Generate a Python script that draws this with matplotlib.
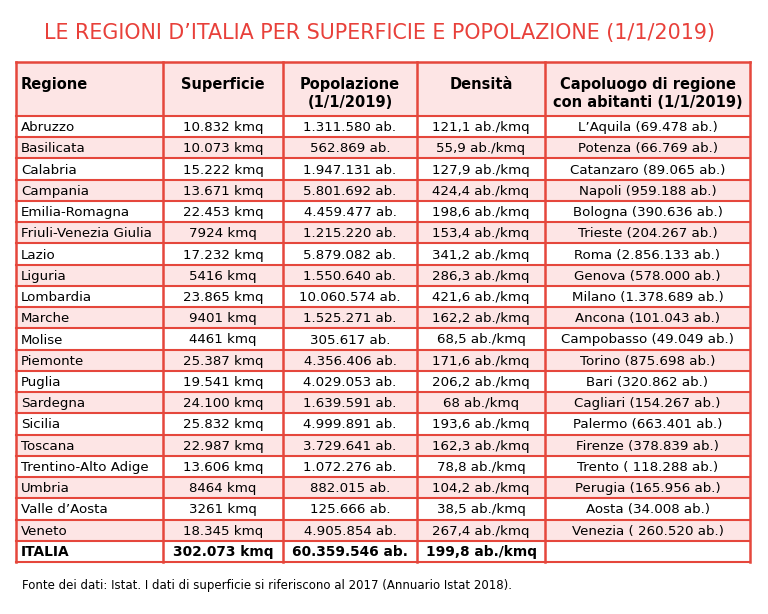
import matplotlib.pyplot as plt
from matplotlib.patches import Rectangle

plt.rc("font", family="DejaVu Sans")

title = "LE REGIONI D\u2019ITALIA PER SUPERFICIE E POPOLAZIONE (1/1/2019)"
headers = ["Regione", "Superficie", "Popolazione\n(1/1/2019)", "Densit\u00e0",
           "Capoluogo di regione\ncon abitanti (1/1/2019)"]
regioni = ["Abruzzo", "Basilicata", "Calabria", "Campania", "Emilia-Romagna",
           "Friuli-Venezia Giulia", "Lazio", "Liguria", "Lombardia", "Marche",
           "Molise", "Piemonte", "Puglia", "Sardegna", "Sicilia", "Toscana",
           "Trentino-Alto Adige", "Umbria", "Valle d\u2019Aosta", "Veneto"]
superficie = ["10.832 kmq", "10.073 kmq", "15.222 kmq", "13.671 kmq", "22.453 kmq",
              "7924 kmq", "17.232 kmq", "5416 kmq", "23.865 kmq", "9401 kmq",
              "4461 kmq", "25.387 kmq", "19.541 kmq", "24.100 kmq", "25.832 kmq",
              "22.987 kmq", "13.606 kmq", "8464 kmq", "3261 kmq", "18.345 kmq"]
popolazione = ["1.311.580 ab.", "562.869 ab.", "1.947.131 ab.", "5.801.692 ab.",
               "4.459.477 ab.", "1.215.220 ab.", "5.879.082 ab.", "1.550.640 ab.",
               "10.060.574 ab.", "1.525.271 ab.", "305.617 ab.", "4.356.406 ab.",
               "4.029.053 ab.", "1.639.591 ab.", "4.999.891 ab.", "3.729.641 ab.",
               "1.072.276 ab.", "882.015 ab.", "125.666 ab.", "4.905.854 ab."]
densita = ["121,1 ab./kmq", "55,9 ab./kmq", "127,9 ab./kmq", "424,4 ab./kmq",
           "198,6 ab./kmq", "153,4 ab./kmq", "341,2 ab./kmq", "286,3 ab./kmq",
           "421,6 ab./kmq", "162,2 ab./kmq", "68,5 ab./kmq", "171,6 ab./kmq",
           "206,2 ab./kmq", "68 ab./kmq", "193,6 ab./kmq", "162,3 ab./kmq",
           "78,8 ab./kmq", "104,2 ab./kmq", "38,5 ab./kmq", "267,4 ab./kmq"]
capoluogo = ["L\u2019Aquila (69.478 ab.)", "Potenza (66.769 ab.)", "Catanzaro (89.065 ab.)",
             "Napoli (959.188 ab.)", "Bologna (390.636 ab.)", "Trieste (204.267 ab.)",
             "Roma (2.856.133 ab.)", "Genova (578.000 ab.)", "Milano (1.378.689 ab.)",
             "Ancona (101.043 ab.)", "Campobasso (49.049 ab.)", "Torino (875.698 ab.)",
             "Bari (320.862 ab.)", "Cagliari (154.267 ab.)", "Palermo (663.401 ab.)",
             "Firenze (378.839 ab.)", "Trento ( 118.288 ab.)", "Perugia (165.956 ab.)",
             "Aosta (34.008 ab.)", "Venezia ( 260.520 ab.)"]
totale = ["ITALIA", "302.073 kmq", "60.359.546 ab.", "199,8 ab./kmq", ""]
fonte = "Fonte dei dati: Istat. I dati di superficie si riferiscono al 2017 (Annuario Istat 2018)."

red = "#e5473c"
pink = "#fde5e5"

# layout in pixels
col_x = [16, 163, 283, 417, 545, 750]
top, head_bot, bottom = 62, 116, 562

fig = plt.figure(figsize=(7.68, 6.14), dpi=100)
ax = fig.add_axes([0, 0, 1, 1])
ax.set_xlim(0, 768)
ax.set_ylim(614, 0)
ax.axis("off")

rows = [list(r) for r in zip(regioni, superficie, popolazione, densita, capoluogo)]
rows.append(totale)
rh = (bottom - head_bot) / len(rows)

# header
ax.add_patch(Rectangle((col_x[0], top), col_x[-1] - col_x[0], head_bot - top,
                       facecolor=pink, edgecolor="none"))
for j, h in enumerate(headers):
    if j == 0:
        ax.text(col_x[0] + 5, top + 15, h, ha="left", va="top",
                fontsize=10.5, fontweight="bold")
    else:
        ax.text((col_x[j] + col_x[j + 1]) / 2, top + 15, h, ha="center", va="top",
                fontsize=10.5, fontweight="bold", linespacing=1.25)

# body
for i, r in enumerate(rows):
    y0 = head_bot + i * rh
    if i % 2 == 1:
        ax.add_patch(Rectangle((col_x[0], y0), col_x[-1] - col_x[0], rh,
                               facecolor=pink, edgecolor="none"))
    last = i == len(rows) - 1
    for j, v in enumerate(r):
        kw = dict(va="center", fontsize=9.9 if last else 9.6,
                  fontweight="bold" if last else "normal")
        if j == 0:
            ax.text(col_x[0] + 5, y0 + rh / 2 + 1, v, ha="left", **kw)
        else:
            ax.text((col_x[j] + col_x[j + 1]) / 2, y0 + rh / 2 + 1, v, ha="center", **kw)

# grid lines
for i in range(len(rows) + 1):
    y = head_bot + i * rh
    ax.plot([col_x[0], col_x[-1]], [y, y], color=red, lw=1.5)
ax.plot([col_x[0], col_x[-1]], [top, top], color=red, lw=1.8)
for x in col_x:
    ax.plot([x, x], [top, bottom], color=red, lw=1.8)

ax.text(380, 33, title, ha="center", va="center", color="#e8403a", fontsize=14.9)
ax.text(22, 585, fonte, ha="left", va="center", fontsize=8.45)

fig.savefig("out.png", dpi=100)
